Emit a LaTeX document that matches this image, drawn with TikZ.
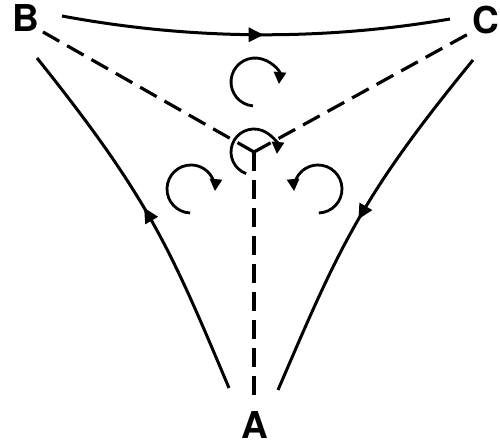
\documentclass[tikz,border=0pt]{standalone}
\usepackage{fontspec}
\setmainfont{TeX Gyre Heros}
\usetikzlibrary{arrows.meta, decorations.markings}

\begin{document}
\begin{tikzpicture}[
        x=1pt, y=1pt,
        corner/.style={font=\fontsize{37}{37}\selectfont\bfseries, inner sep=0pt},
        flow/.style={line width=3pt, postaction={decorate},
          decoration={markings, mark=at position #1 with
            {\arrow{Triangle[length=15pt, width=14pt]}}}},
        cut/.style={line width=3.2pt, dash pattern=on 19pt off 9pt},
        spin/.style={line width=2.8pt, -{Triangle[length=12pt, width=12pt]}},
      ]
      \useasboundingbox (0,0) rectangle (500,445);

      \node[corner] (A) at (255,20)  {A};
      \node[corner] (B) at (26,427)  {B};
      \node[corner] (C) at (486,425) {C};

      % where the three cuts meet
      \coordinate (J) at (254,293);

      % ends of the three boundary curves
      \coordinate (ab) at (229,57);
      \coordinate (ba) at (37,387);
      \coordinate (bc) at (62,429);
      \coordinate (cb) at (450,426);
      \coordinate (ca) at (473,385);
      \coordinate (ac) at (278,55);

      % outer ends of the cuts
      \coordinate (jb) at (43,413);
      \coordinate (jc) at (470,412);
      \coordinate (ja) at (254,47);

      % centres of the rotation arrows
      \coordinate (sTop)   at (255,363);
      \coordinate (sLeft)  at (191,256);
      \coordinate (sRight) at (318,256);

      \draw[flow=0.52] (ab) .. controls (170,197) and (149,247) .. (ba);
      \draw[flow=0.52] (bc) .. controls (191,405) and (321,404) .. (cb);
      \draw[flow=0.51] (ca) .. controls (360,247) and (339,197) .. (ac);

      \draw[cut] (J) -- (jb);
      \draw[cut] (J) -- (jc);
      \draw[cut] (J) -- (ja);

      \draw[spin] ([shift=(265:24pt)]sTop) arc[start angle=265, end angle=-5, radius=24pt];
      \draw[spin] ([shift=(250:23pt)]J) arc[start angle=250, end angle=-5, radius=23pt];
      \draw[spin] ([shift=(268:24pt)]sLeft) arc[start angle=268, end angle=-5, radius=24pt];
      \draw[spin] ([shift=(-88:24pt)]sRight) arc[start angle=-88, end angle=185, radius=24pt];

    \end{tikzpicture}
\end{document}
